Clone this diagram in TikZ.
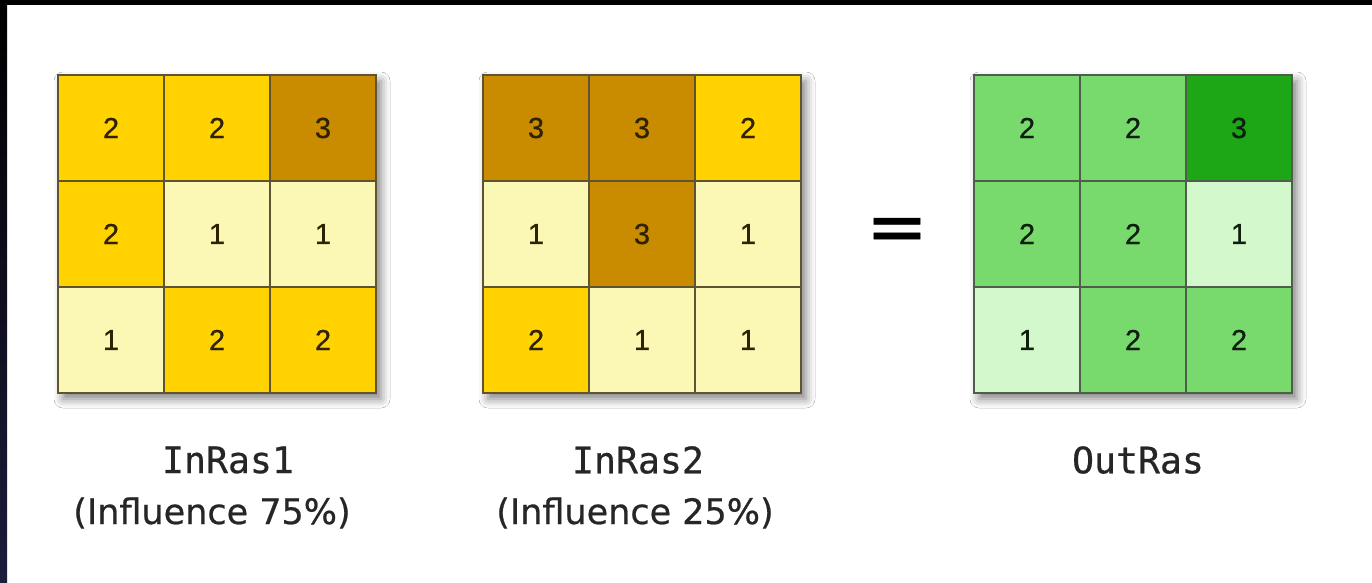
\documentclass[tikz,border=0pt]{standalone}
\usepackage{fontspec}
\setmainfont{Liberation Sans}
\newfontfamily\cellfont[FakeBold=0.7]{Liberation Sans}
\newfontfamily\namefont[FakeBold=0.6]{DejaVu Sans Mono}
\newfontfamily\notefont[FakeBold=0.6]{DejaVu Sans}
\usetikzlibrary{shadows.blur}

% raster class colours
\definecolor{gold1}{HTML}{FBF8B6}
\definecolor{gold2}{HTML}{FFD200}
\definecolor{gold3}{HTML}{C98B00}
\definecolor{green1}{HTML}{D3F8CB}
\definecolor{green2}{HTML}{78DA6C}
\definecolor{green3}{HTML}{1DA615}
\definecolor{yline}{HTML}{5E5432}
\definecolor{gline}{HTML}{4F5E4C}
\definecolor{ytext}{HTML}{2E2200}
\definecolor{gtext}{HTML}{0F1F0F}
\definecolor{edgeblue}{HTML}{1C1C3C}

\tikzset{
  frame/.style={minimum size=318pt, inner sep=0pt, fill=white,
    blur shadow={shadow xshift=5pt, shadow yshift=-7pt,
                 shadow blur radius=9pt, shadow opacity=50}},
  cell/.style={minimum size=106pt, inner sep=0pt, line width=1.8pt,
    font=\cellfont\fontsize{29}{29}\selectfont},
  ycell/.style={cell, draw=yline, text=ytext},
  gcell/.style={cell, draw=gline, text=gtext},
  rastername/.style={font=\namefont\fontsize{36.5}{36.5}\selectfont, inner sep=0pt, text=black!85},
  rasternote/.style={font=\notefont\fontsize{35}{35}\selectfont, inner sep=0pt, text=black!85},
  eqsign/.style={font=\notefont\fontsize{74}{74}\selectfont, inner sep=0pt}
}

\begin{document}
\begin{tikzpicture}[x=1pt, y=-1pt]
  \useasboundingbox (0,0) rectangle (1372,582);
  \fill[white] (0,0) rectangle (1372,582);

  % dark screen edges
  \fill[black] (0,0) rectangle (1372,5);
  \shade[top color=black, bottom color=edgeblue] (0,0) rectangle (7,582);

  % raster frames carrying the soft shadows
  \node[frame] (g1) at (217,233) {};
  \node[frame] (g2) at (642,233) {};
  \node[frame] (g3) at (1133,233) {};

  % InRas1
  \foreach \v [count=\i from 0] in {2,2,3,2,1,1,1,2,2} {
    \pgfmathtruncatemacro{\c}{mod(\i,3)}
    \pgfmathtruncatemacro{\r}{\i/3}
    \node[ycell, fill=gold\v] (a-\i) at (111+106*\c, 128+106*\r) {\v};
  }
  % InRas2
  \foreach \v [count=\i from 0] in {3,3,2,1,3,1,2,1,1} {
    \pgfmathtruncatemacro{\c}{mod(\i,3)}
    \pgfmathtruncatemacro{\r}{\i/3}
    \node[ycell, fill=gold\v] (b-\i) at (536+106*\c, 128+106*\r) {\v};
  }
  % OutRas
  \foreach \v [count=\i from 0] in {2,2,3,2,2,1,1,2,2} {
    \pgfmathtruncatemacro{\c}{mod(\i,3)}
    \pgfmathtruncatemacro{\r}{\i/3}
    \node[gcell, fill=green\v] (c-\i) at (1027+106*\c, 128+106*\r) {\v};
  }

  \node[eqsign] (eq) at (897,235) {=};

  % captions
  \node[rastername] (n1) at (228,460) {InRas1};
  \node[rasternote] (p1) at (212,513) {(Influence 75\%)};
  \node[rastername] (n2) at (638,460) {InRas2};
  \node[rasternote] (p2) at (635,513) {(Influence 25\%)};
  \node[rastername] (n3) at (1138,460) {OutRas};
\end{tikzpicture}
\end{document}
